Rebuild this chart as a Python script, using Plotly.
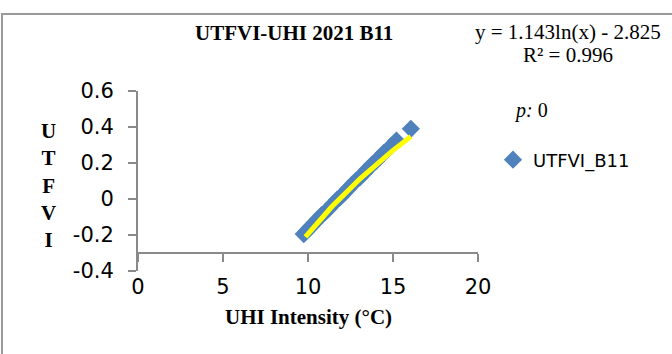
import numpy as np
import plotly.graph_objects as go

# data
uhi = [9.75, 9.9, 10.05, 10.2, 10.4, 10.6, 10.8, 11.0, 11.2, 11.45, 11.7, 11.9,
       12.1, 12.35, 12.6, 12.8, 13.05, 13.3, 13.5, 13.75, 14.0, 14.2, 14.45,
       14.7, 14.9, 15.2, 16.05]
utfvi = [-0.195, -0.18, -0.165, -0.15, -0.13, -0.11, -0.09, -0.075, -0.055,
         -0.03, -0.005, 0.01, 0.03, 0.055, 0.08, 0.1, 0.12, 0.145, 0.165,
         0.19, 0.21, 0.23, 0.255, 0.275, 0.295, 0.325, 0.39]
trend_a = 1.143
trend_b = -2.825
x_ticks = [0, 5, 10, 15, 20]
y_ticks = [-0.4, -0.2, 0, 0.2, 0.4, 0.6]
y_tick_text = ["-0.4", "-0.2", "0", "0.2", "0.4", "0.6"]

W, H = 672, 354
L, R, T, B = 138, 478, 91, 271  # plot area pixels


def px(x):
    return (x - L) / (R - L)


def py(y):
    return (B - y) / (B - T)


tx = np.linspace(min(uhi) + 0.1, max(uhi), 60)
ty = trend_a * np.log(tx) + trend_b

fig = go.Figure()
fig.add_trace(go.Scatter(
    x=uhi, y=utfvi, mode="markers", name="UTFVI_B11",
    marker=dict(symbol="diamond", size=14, color="#4F81BD",
                line=dict(width=0)),
))
fig.add_trace(go.Scatter(
    x=tx, y=ty, mode="lines", showlegend=False,
    line=dict(color="#FFFF00", width=5),
))

axis_col = "#8a8a8a"
tick_font = dict(family="DejaVu Sans", size=21, color="black")
fig.update_layout(
    width=W, height=H,
    margin=dict(l=L, r=W - R, t=T, b=H - B),
    paper_bgcolor="white", plot_bgcolor="white",
    showlegend=True,
    legend=dict(x=px(493), y=py(160), xanchor="left", yanchor="middle",
                font=dict(family="DejaVu Sans", size=18, color="black"),
                bgcolor="rgba(0,0,0,0)", itemwidth=30),
    xaxis=dict(range=[0, 20], tickvals=x_ticks, showgrid=False,
               zeroline=False, showline=True, linecolor=axis_col, linewidth=2,
               ticks="outside", ticklen=8, tickcolor=axis_col, tickwidth=2,
               anchor="free", position=0.1, ticklabelstandoff=7,
               tickfont=tick_font),
    yaxis=dict(range=[-0.4, 0.6], tickvals=y_ticks, ticktext=y_tick_text,
               showgrid=False, zeroline=False, showline=True,
               linecolor=axis_col, linewidth=2,
               ticks="outside", ticklen=8, tickcolor=axis_col, tickwidth=2,
               ticklabelstandoff=10, tickfont=tick_font),
)

serif = "Liberation Serif"
ann = [
    dict(text="<b>UTFVI-UHI 2021 B11</b>", x=px(294), y=py(33), size=21,
         xanchor="center"),
    dict(text="y = 1.143ln(x) - 2.825", x=px(568), y=py(32), size=21,
         xanchor="center"),
    dict(text="R² = 0.996", x=px(568), y=py(55), size=21, xanchor="center"),
    dict(text="<i>p:</i> 0", x=px(512), y=py(110), size=20, xanchor="left"),
    dict(text="<b>UHI Intensity (°C)</b>", x=px(308), y=py(317), size=21,
         xanchor="center"),
    dict(text="<b>U<br>T<br>F<br>V<br>I</b>", x=px(48), y=py(185), size=21,
         xanchor="center"),
]
for a in ann:
    fig.add_annotation(text=a["text"], x=a["x"], y=a["y"], xref="paper",
                       yref="paper", showarrow=False, xanchor=a["xanchor"],
                       yanchor="middle",
                       font=dict(family=serif, size=a["size"], color="black"))

fig.add_shape(type="rect", xref="paper", yref="paper",
              x0=px(2), x1=px(690), y0=py(14), y1=py(400),
              line=dict(color="#9a9a9a", width=2), layer="below")

fig.write_html("out.html")
